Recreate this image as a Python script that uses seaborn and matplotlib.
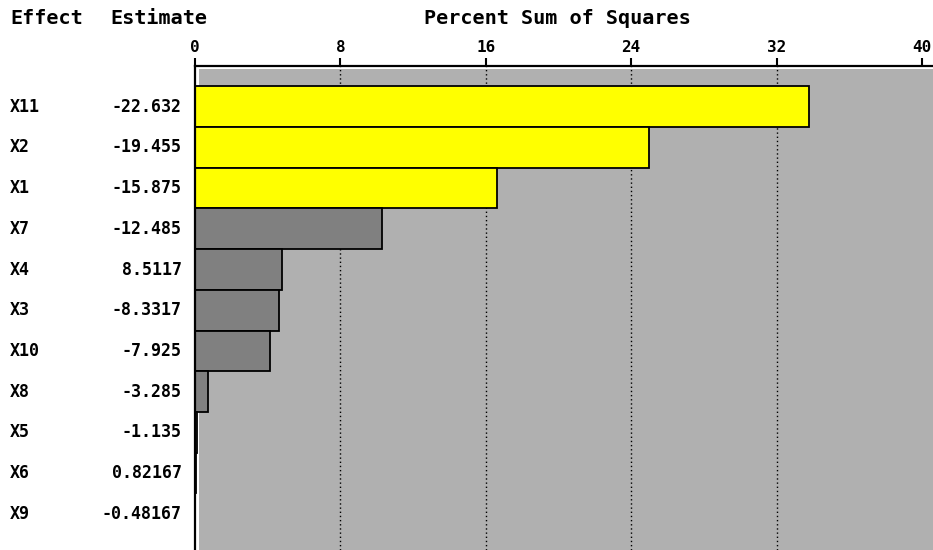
import matplotlib
matplotlib.use("Agg")
import matplotlib.pyplot as plt
import matplotlib.transforms as mtransforms
from matplotlib.patches import Rectangle
import seaborn as sns
import pandas as pd

effects = ["X11", "X2", "X1", "X7", "X4", "X3", "X10", "X8", "X5", "X6", "X9"]
estimates = ["-22.632", "-19.455", "-15.875", "-12.485", "8.5117", "-8.3317",
             "-7.925", "-3.285", "-1.135", "0.82167", "-0.48167"]
pct_ss = [33.8, 25.0, 16.6, 10.3, 4.8, 4.6, 4.1, 0.7, 0.09, 0.05, 0.02]
group = ["sig", "sig", "sig", "ns", "ns", "ns", "ns", "ns", "ns", "ns", "ns"]
xticks = [0, 8, 16, 24, 32, 40]

df = pd.DataFrame({"effect": effects, "pct": pct_ss, "group": group})

sns.set_theme(style="white")
plt.rcParams["font.family"] = ["DejaVu Sans Mono"]
plt.rcParams["text.color"] = "black"
plt.rcParams["xtick.color"] = "black"

fig = plt.figure(figsize=(9.33, 5.5), dpi=100)
W, H = 933, 550
ax = fig.add_axes([195 / W, 0, 1 - 195 / W, 1 - 66 / H])
ax.set_facecolor("white")

# gray inner panel with a thin white border
ax.add_patch(Rectangle((4 / 738, 0), 1, 1 - 3 / 484, transform=ax.transAxes,
                       facecolor="#B0B0B0", edgecolor="none", zorder=0))

for t in xticks[1:-1]:
    ax.axvline(t, color="black", linestyle=(0, (1, 2)), linewidth=1, zorder=1)

sns.barplot(data=df, x="pct", y="effect", hue="group", order=effects,
            palette={"sig": "#FFFF00", "ns": "#808080"}, dodge=False,
            width=1.0, edgecolor="black", linewidth=1.3, saturation=1,
            legend=False, ax=ax, zorder=2)

ax.set_xlim(0, (933 - 195) / 18.175)
ax.set_ylim(10.89, -1.0)
ax.xaxis.tick_top()
ax.set_xticks(xticks)
ax.set_xticklabels([str(t) for t in xticks], fontsize=11.5, fontweight="bold",
                   color="black")
ax.tick_params(axis="x", direction="out", length=6, width=1.5, color="black",
               pad=2, top=True, bottom=False)
ax.set_yticks([])
ax.set_xlabel("")
ax.set_ylabel("")
for s in ["right", "bottom"]:
    ax.spines[s].set_visible(False)
for s in ["left", "top"]:
    ax.spines[s].set_color("black")
    ax.spines[s].set_linewidth(1.6)

trans = mtransforms.blended_transform_factory(fig.transFigure, ax.transData)
for i, (e, est) in enumerate(zip(effects, estimates)):
    ax.text(10 / W, i, e, transform=trans, ha="left", va="center",
            fontsize=12, fontweight="bold", color="black", clip_on=False)
    ax.text(182 / W, i, est, transform=trans, ha="right", va="center",
            fontsize=12, fontweight="bold", color="black", clip_on=False)

fig.text(10 / W, 1 - 19 / H, "Effect", ha="left", va="center",
         fontsize=14.5, fontweight="bold", color="black")
fig.text(110 / W, 1 - 19 / H, "Estimate", ha="left", va="center",
         fontsize=14.5, fontweight="bold", color="black")
fig.text(557 / W, 1 - 19 / H, "Percent Sum of Squares", ha="center", va="center",
         fontsize=14.5, fontweight="bold", color="black")

fig.savefig("out.png", dpi=100)
